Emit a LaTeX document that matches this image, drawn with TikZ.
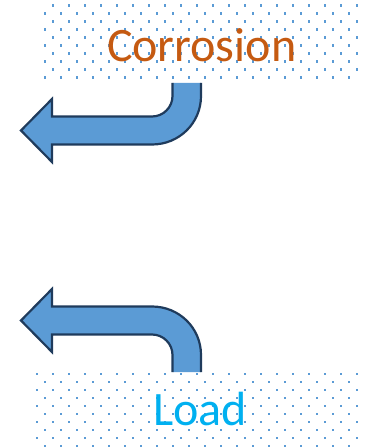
\documentclass[tikz,border=0pt]{standalone}
\usepackage{fontspec}
\setmainfont{Carlito}
\definecolor{dotblue}{HTML}{5B9BD5}
\definecolor{arrowfill}{HTML}{5B9BD5}
\definecolor{arrowline}{HTML}{1F3B5C}
\definecolor{rustorange}{HTML}{C55A11}
\definecolor{skycyan}{HTML}{00B0F0}
\tikzset{
  bentarrow/.style={fill=arrowfill, draw=arrowline, line width=2.2bp, miter limit=10},
  dotsq/.style={fill=dotblue},
  labeltext/.style={inner sep=0pt, anchor=base, font=\fontsize{48bp}{56bp}\selectfont}
}
\begin{document}
\begin{tikzpicture}[x=1bp,y=-1bp]
\useasboundingbox (0,0) rectangle (364,447);
% top bent arrow
\filldraw[bentarrow] (172.5,83) -- (172.5,96)
  .. controls (172.5,107.3) and (163.3,116.5) .. (152,116.5)
  -- (52,116.5) -- (52,99) -- (21,130.5) -- (52,162) -- (52,144.5)
  -- (152,144.5)
  .. controls (179.1,144.5) and (201,123.1) .. (201,96)
  -- (201,83);
% bottom bent arrow
\filldraw[bentarrow] (172.5,372) -- (172.5,355)
  .. controls (172.5,343.7) and (163.3,334.5) .. (152,334.5)
  -- (52,334.5) -- (52,352) -- (21,320.5) -- (52,289) -- (52,306.5)
  -- (152,306.5)
  .. controls (179.1,306.5) and (201,327.9) .. (201,355)
  -- (201,372);
% top dotted area
\foreach \j in {0,...,4}{
  \foreach \k in {0,...,19}{
    \fill[dotsq] ({52.7+16*\k-1.2},{5.7+16*\j-1.2}) rectangle +(2.4,2.4);
    \fill[dotsq] ({44.7+16*\k-1.2},{13.7+16*\j-1.2}) rectangle +(2.4,2.4);
  }
}
% bottom dotted area
\foreach \j in {0,...,4}{
  \foreach \k in {0,...,20}{
    \fill[dotsq] ({36.7+16*\k-1.2},{373.7+16*\j-1.2}) rectangle +(2.4,2.4);
  }
  \foreach \k in {0,...,19}{
    \fill[dotsq] ({44.7+16*\k-1.2},{381.7+16*\j-1.2}) rectangle +(2.4,2.4);
  }
}
\node[labeltext, text=rustorange] (corrosion) at (201.7,61.7) {Corrosion};
\node[labeltext, text=skycyan] (load) at (200,425.7) {Load};
\end{tikzpicture}
\end{document}
